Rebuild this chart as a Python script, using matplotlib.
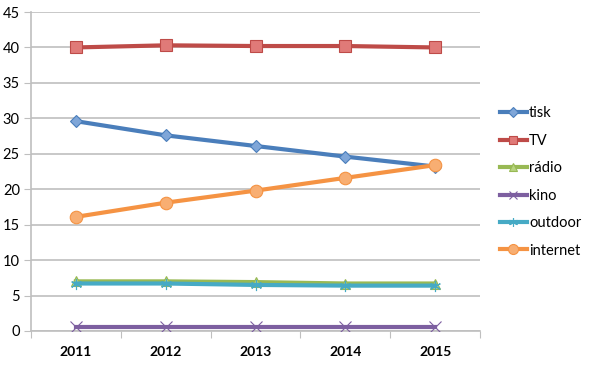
import numpy as np
import matplotlib.pyplot as plt
from matplotlib.ticker import FixedLocator

years = ["2011", "2012", "2013", "2014", "2015"]

tisk = [29.6, 27.6, 26.1, 24.6, 23.2]
tv = [40.0, 40.3, 40.2, 40.2, 40.0]
radio = [7.0, 7.0, 6.9, 6.7, 6.7]
kino = [0.5, 0.5, 0.5, 0.5, 0.5]
outdoor = [6.7, 6.7, 6.5, 6.4, 6.4]
internet = [16.1, 18.1, 19.8, 21.6, 23.4]

series = [
    ("tisk", tisk, "#4A7EBB", "#7FA6D8", "D", 6),
    ("TV", tv, "#BE4B48", "#E07A78", "s", 8),
    ("rádio", radio, "#98B954", "#B6D37E", "^", 7),
    ("kino", kino, "#7D5FA0", "#7D5FA0", "x", 8),
    ("outdoor", outdoor, "#46AAC5", "#46AAC5", (6, 2, 0), 8),
    ("internet", internet, "#F59343", "#F8AE72", "o", 9),
]

plt.rcParams["font.family"] = ["Lato", "DejaVu Sans"]

fig = plt.figure(figsize=(5.94, 3.65), dpi=100)
ax = fig.add_axes([31 / 594, 34 / 365, 449 / 594, 319 / 365])

x = np.arange(len(years))
for name, vals, col, fill, mk, ms in series:
    ax.plot(x, vals, color=col, lw=3, marker=mk, ms=ms,
            markerfacecolor=fill, markeredgecolor=col, markeredgewidth=0.8,
            label=name, zorder=3)

ax.set_xlim(-0.5, len(years) - 0.5)
ax.set_ylim(0, 45)
ax.set_yticks(np.arange(0, 46, 5))
ax.yaxis.grid(True, color="#BFBFBF", lw=1.2)
ax.set_axisbelow(True)

ax.xaxis.set_major_locator(FixedLocator(np.arange(-0.5, len(years), 1.0)))
ax.xaxis.set_minor_locator(FixedLocator(x))
ax.set_xticklabels([], minor=False)
ax.set_xticklabels(years, minor=True, fontweight="bold", fontsize=10)
ax.tick_params(axis="x", which="major", length=5, color="#BFBFBF")
ax.tick_params(axis="x", which="minor", length=0, pad=11)
ax.tick_params(axis="y", length=5, color="#BFBFBF", labelsize=10.5, pad=3)

for s in ["top", "right"]:
    ax.spines[s].set_visible(False)
for s in ["left", "bottom"]:
    ax.spines[s].set_color("#BFBFBF")
    ax.spines[s].set_linewidth(1.2)

ax.legend(loc="center left", bbox_to_anchor=(1.0 + 14 / 449, 0.467),
          frameon=False, fontsize=10.5, handlelength=1.85, handletextpad=0.15,
          labelspacing=0.92, borderaxespad=0, markerscale=0.8)

fig.savefig("out.png", dpi=100)
